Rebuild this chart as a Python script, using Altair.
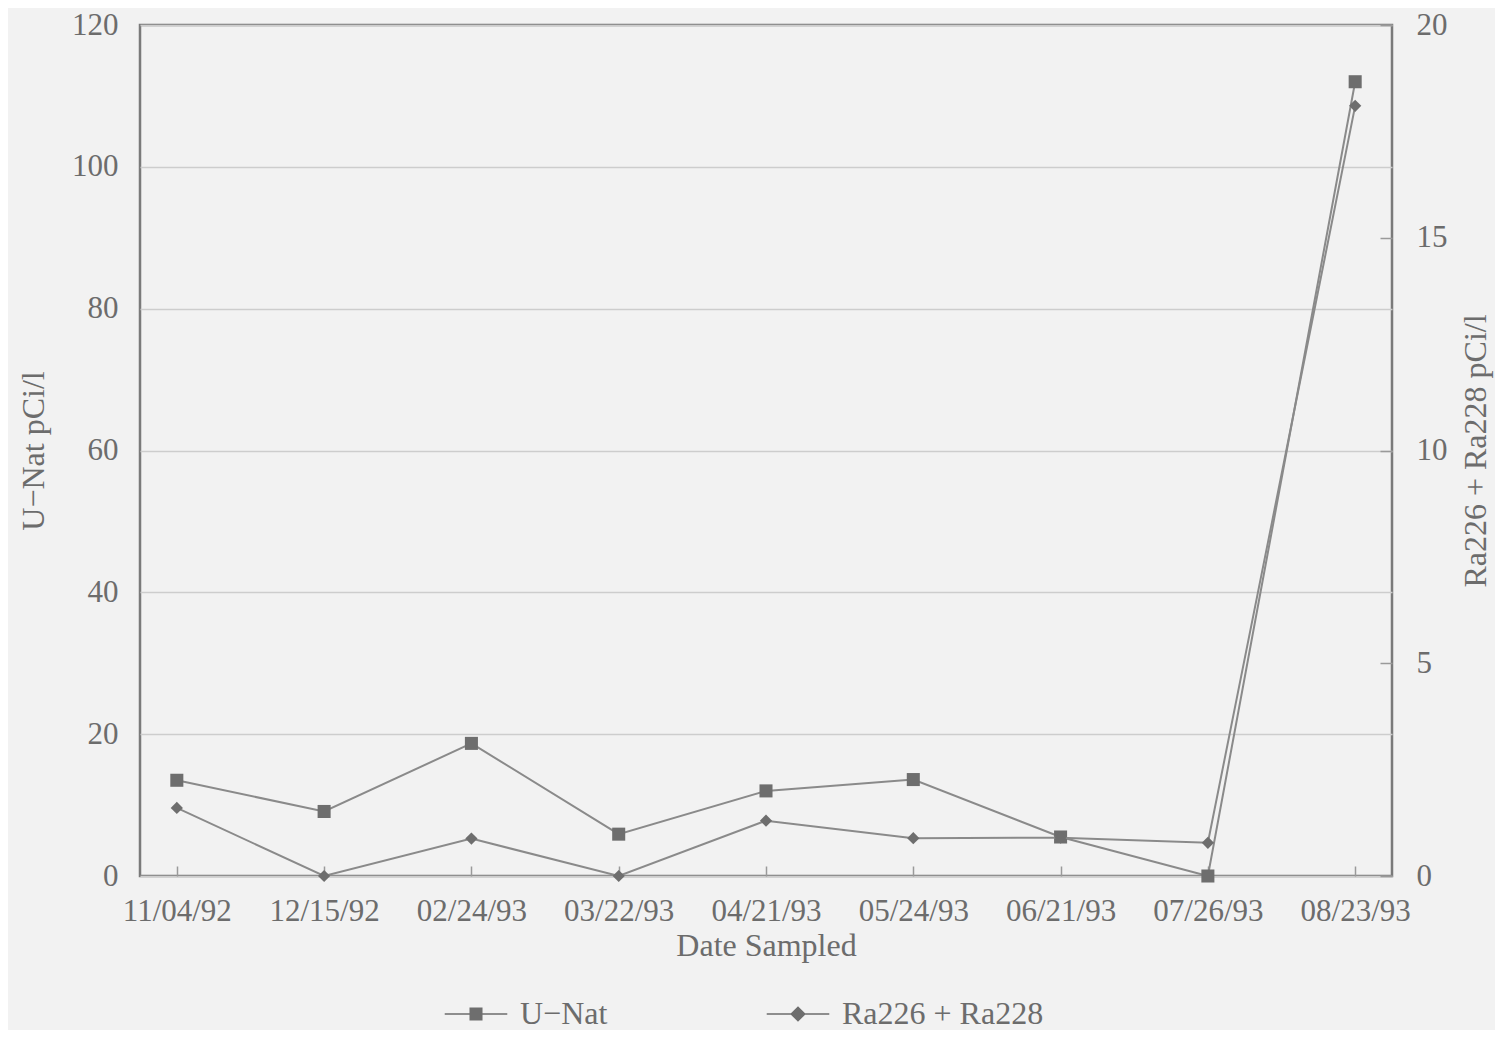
import altair as alt
import pandas as pd

# ---- data ----
dates = ["11/04/92", "12/15/92", "02/24/93", "03/22/93", "04/21/93",
         "05/24/93", "06/21/93", "07/26/93", "08/23/93"]
u_nat = [13.5, 9.1, 18.7, 5.9, 12.0, 13.6, 5.5, 0.0, 112.0]
ra_sum = [1.6, 0.0, 0.88, 0.0, 1.3, 0.89, 0.9, 0.78, 18.1]
series_names = ["U\u2212Nat", "Ra226 + Ra228"]
left_ticks = [0, 20, 40, 60, 80, 100, 120]
right_ticks = [0, 5, 10, 15, 20]

df_u = pd.DataFrame({"date": dates, "value": u_nat, "series": series_names[0]})
df_r = pd.DataFrame({"date": dates, "value": ra_sum, "series": series_names[1]})
df_leg = pd.DataFrame({"series": series_names})

FONT = "Liberation Serif"
TXT = "#6c6c6c"
LINE = "#8a8a8a"
MARK = "#6e6e6e"
GRID = "#cdcdcd"
BG = "#f2f2f2"
TICK_FS = 31
TITLE_FS = 32

# legend symbols: marker with a thin line through it (custom filled symbol paths)
legend_paths = [
    "M-4.8,-0.13H4.8V0.13H-4.8ZM-1,-1H1V1H-1Z",
    "M-4.8,-0.13H4.8V0.13H-4.8ZM0,-1.2L1.2,0L0,1.2L-1.2,0Z",
]

x_enc = alt.X(
    "date:N", sort=dates,
    scale=alt.Scale(type="point", padding=0.25),
    axis=alt.Axis(title="Date Sampled", labelAngle=0, offset=-10, tickSize=10,
                  tickColor="#9a9a9a", tickWidth=1.5, domain=False, grid=False,
                  labelPadding=20, titlePadding=4,
                  labelFont=FONT, labelFontSize=TICK_FS, labelColor=TXT,
                  titleFont=FONT, titleFontSize=TITLE_FS, titleColor=TXT,
                  titleFontWeight="normal"),
)

left_y = alt.Y(
    "value:Q", scale=alt.Scale(domain=[0, 120], nice=False, zero=True),
    axis=alt.Axis(title="U\u2212Nat pCi/l", values=left_ticks, grid=True,
                  gridColor=GRID, gridWidth=1.5, ticks=False, domain=False,
                  labelPadding=22, titlePadding=21, orient="left",
                  labelFont=FONT, labelFontSize=TICK_FS, labelColor=TXT,
                  titleFont=FONT, titleFontSize=TITLE_FS, titleColor=TXT,
                  titleFontWeight="normal"),
)
right_y = alt.Y(
    "value:Q", scale=alt.Scale(domain=[0, 20], nice=False, zero=True),
    axis=alt.Axis(title="Ra226 + Ra228 pCi/l", values=right_ticks, grid=False,
                  orient="right", offset=-12, tickSize=12, tickColor="#9a9a9a",
                  tickWidth=1.5, domain=False, labelPadding=24, titlePadding=45,
                  titleAngle=270,
                  labelFont=FONT, labelFontSize=TICK_FS, labelColor=TXT,
                  titleFont=FONT, titleFontSize=TITLE_FS, titleColor=TXT,
                  titleFontWeight="normal"),
)

u_base = alt.Chart(df_u).encode(x=x_enc, y=left_y)
legend_layer = alt.Chart(df_leg).mark_point(
    filled=True, opacity=0, size=170, color=MARK
).encode(
    x=alt.value(0), y=alt.value(0),
    shape=alt.Shape(
        "series:N",
        scale=alt.Scale(domain=series_names, range=legend_paths),
        legend=alt.Legend(
            orient="none", legendX=320, legendY=973, direction="horizontal",
            title=None, labelFont=FONT, labelFontSize=TITLE_FS, labelColor=TXT,
            labelOffset=28, labelLimit=400, symbolSize=170,
            symbolFillColor=MARK, symbolStrokeWidth=0,
            symbolOpacity=1, columnPadding=158, padding=0,
        ),
    ),
)
u_layer = alt.layer(
    u_base.mark_line(color=LINE, strokeWidth=2),
    u_base.mark_point(filled=True, color=MARK, size=170, opacity=1,
                      shape="square"),
    legend_layer,
)

r_base = alt.Chart(df_r).encode(x=x_enc, y=right_y)
r_layer = alt.layer(
    r_base.mark_line(color=LINE, strokeWidth=2),
    r_base.mark_point(filled=True, color=MARK, size=150, opacity=1,
                      shape="diamond"),
)

chart = (
    alt.layer(u_layer, r_layer)
    .resolve_scale(y="independent")
    .properties(
        width=1252, height=851, background=BG,
        autosize=alt.AutoSizeParams(type="none"),
        padding={"left": 132, "top": 17, "right": 103, "bottom": 154},
    )
    .configure_view(stroke="#7a7a7a", strokeWidth=2.5, fill=BG)
)

chart.save("out.html", embed_options={"renderer": "svg", "actions": False})
